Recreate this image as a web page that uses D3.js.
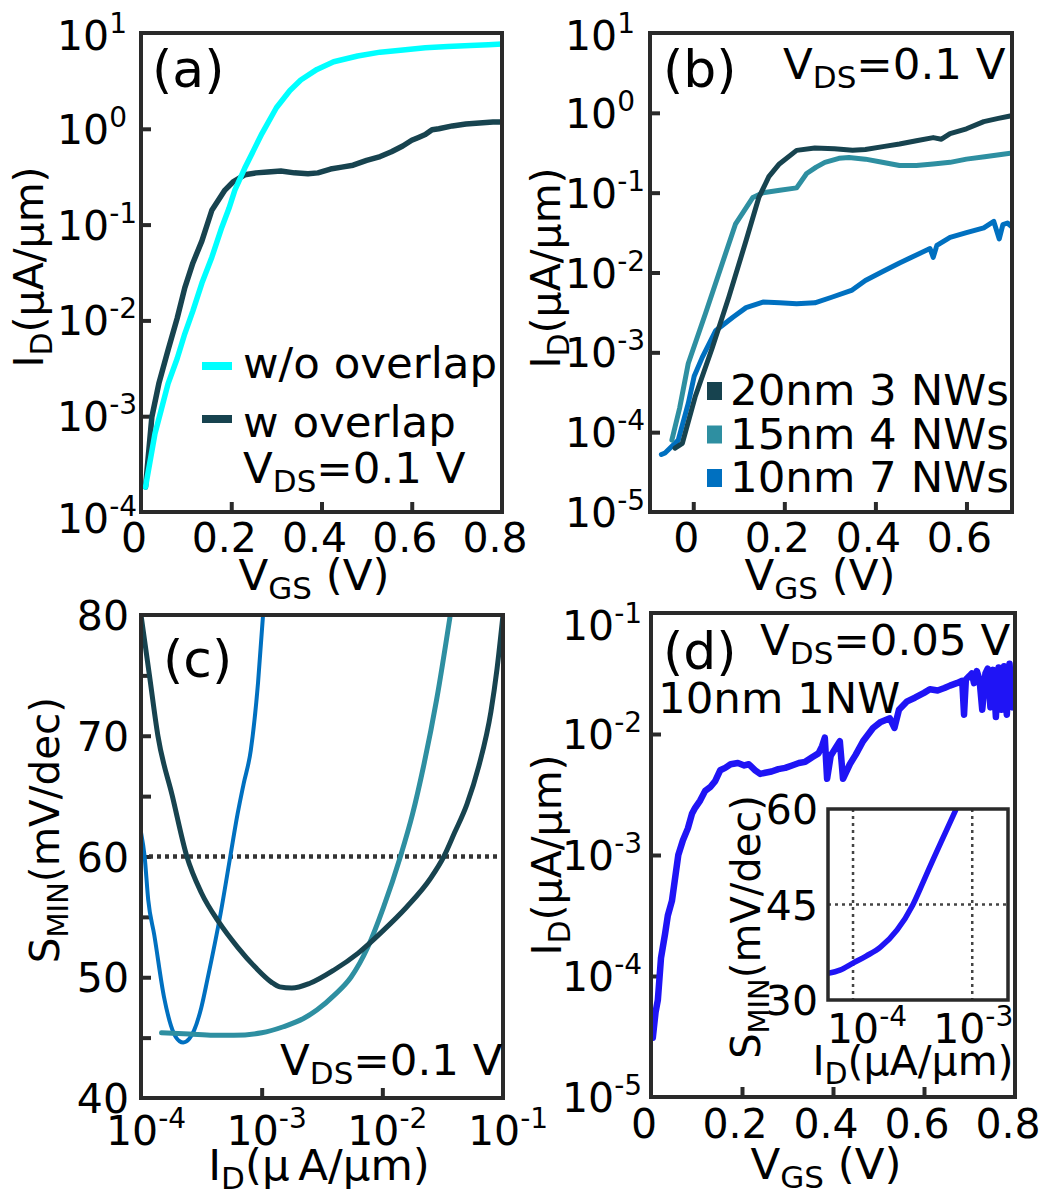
<!DOCTYPE html>
<html>
<head>
<meta charset="utf-8">
<script src="https://cdn.jsdelivr.net/npm/d3@7"></script>
<style>
body { margin: 0; background: #fff; }
svg { display: block; font-family: "DejaVu Sans", sans-serif; }
</style>
</head>
<body>
<div id="chart"></div>
<script>
// ---- panel (a): ID-VGS, log10 of ID (uA/um)
var aCyanV   = [0.010,0.031,0.045,0.060,0.080,0.097,0.115,0.135,0.157,0.179,0.195,0.208,0.230,0.250,0.268,0.300,0.330,0.354,0.390,0.427,0.480,0.530,0.575,0.630,0.680,0.730,0.770,0.800];
var aCyanLog = [-3.74,-3.18,-2.93,-2.66,-2.40,-2.14,-1.90,-1.61,-1.34,-1.03,-0.83,-0.64,-0.41,-0.22,-0.05,0.22,0.40,0.51,0.62,0.70,0.76,0.80,0.82,0.845,0.86,0.87,0.878,0.885];
var aDarkV   = [0.010,0.024,0.040,0.060,0.080,0.097,0.115,0.135,0.157,0.186,0.205,0.230,0.255,0.281,0.310,0.340,0.370,0.392,0.420,0.445,0.470,0.500,0.530,0.555,0.580,0.600,0.615,0.630,0.645,0.660,0.690,0.720,0.750,0.780,0.800];
var aDarkLog = [-3.74,-3.01,-2.65,-2.31,-1.98,-1.66,-1.40,-1.17,-0.85,-0.64,-0.55,-0.48,-0.46,-0.45,-0.44,-0.46,-0.47,-0.46,-0.42,-0.40,-0.38,-0.33,-0.29,-0.24,-0.18,-0.12,-0.09,-0.06,-0.01,0.00,0.03,0.05,0.06,0.07,0.07];
var aLegend  = ['w/o overlap', 'w overlap'];

// ---- panel (b)
var bDarkV   = [-0.040,-0.024,0.004,0.042,0.078,0.116,0.144,0.166,0.189,0.227,0.267,0.310,0.350,0.378,0.420,0.453,0.490,0.527,0.545,0.564,0.600,0.638,0.670,0.704];
var bDarkLog = [-4.20,-4.14,-3.56,-2.94,-2.31,-1.60,-1.06,-0.80,-0.64,-0.47,-0.44,-0.45,-0.47,-0.46,-0.42,-0.39,-0.35,-0.31,-0.33,-0.26,-0.20,-0.11,-0.07,-0.03];
var bTealV   = [-0.047,-0.030,-0.011,0.027,0.064,0.093,0.131,0.153,0.190,0.227,0.249,0.270,0.289,0.320,0.342,0.378,0.415,0.453,0.490,0.527,0.564,0.600,0.640,0.680,0.704];
var bTealLog = [-4.10,-3.70,-3.14,-2.51,-1.88,-1.39,-1.06,-1.00,-0.97,-0.94,-0.76,-0.68,-0.62,-0.57,-0.56,-0.58,-0.62,-0.66,-0.66,-0.64,-0.62,-0.58,-0.55,-0.52,-0.50];
var bBlueV   = [-0.070,-0.062,-0.033,-0.011,0.002,0.020,0.049,0.087,0.116,0.153,0.190,0.227,0.267,0.304,0.349,0.378,0.415,0.453,0.490,0.520,0.527,0.535,0.564,0.600,0.638,0.660,0.672,0.680,0.690,0.704];
var bBlueLog = [-4.28,-4.26,-4.10,-3.64,-3.30,-3.06,-2.73,-2.56,-2.44,-2.37,-2.38,-2.39,-2.38,-2.31,-2.22,-2.10,-1.99,-1.88,-1.78,-1.70,-1.81,-1.66,-1.56,-1.50,-1.44,-1.36,-1.58,-1.40,-1.38,-1.45];
var bLegend  = ['20nm 3 NWs', '15nm 4 NWs', '10nm 7 NWs'];

// ---- panel (c): SMIN vs log10 ID
var cDarkLogI = [-4.00,-3.93,-3.86,-3.74,-3.62,-3.50,-3.35,-3.20,-3.05,-2.92,-2.85,-2.75,-2.60,-2.40,-2.20,-2.00,-1.80,-1.60,-1.49,-1.40,-1.30,-1.20,-1.10,-1.05,-1.00];
var cDarkS    = [80,75,70,65,60,57,54.5,52.5,50.8,49.6,49.2,49.1,49.5,50.6,52.0,53.8,55.8,58.2,60,62,64.3,67.5,72,75.5,80];
var cTealLogI = [-3.83,-3.60,-3.40,-3.23,-3.00,-2.82,-2.65,-2.54,-2.40,-2.26,-2.12,-1.99,-1.85,-1.75,-1.66,-1.55,-1.44];
var cTealS    = [45.4,45.3,45.2,45.2,45.4,45.9,46.6,47.3,48.5,50.0,52.5,55.8,60,63.5,67.4,73,79.8];
var cBlueLogI = [-4.00,-3.97,-3.94,-3.89,-3.81,-3.73,-3.68,-3.65,-3.60,-3.56,-3.50,-3.45,-3.34,-3.26,-3.20,-3.15,-3.09,-3.03,-2.99];
var cBlueS    = [62,60,56.4,53.5,48.4,45.4,44.7,44.6,44.9,45.6,47.5,49.8,55.3,60,63.5,66,68.8,74.4,79.8];

// ---- panel (d)
var dV   = [0.004,0.010,0.015,0.022,0.031,0.037,0.046,0.060,0.070,0.081,0.090,0.097,0.108,0.119,0.130,0.141,0.152,0.163,0.175,0.191,0.205,0.215,0.229,0.240,0.251,0.265,0.280,0.295,0.310,0.325,0.339,0.355,0.368,0.376,0.382,0.387,0.395,0.405,0.415,0.422,0.437,0.450,0.466,0.488,0.505,0.525,0.535,0.545,0.563,0.580,0.600,0.613,0.630,0.645,0.657,0.672,0.684,0.688,0.692,0.700,0.705,0.710,0.716,0.722,0.728,0.735,0.740,0.746,0.752,0.758,0.764,0.770,0.776,0.782,0.788,0.794,0.800];
var dLog = [-4.51,-4.30,-4.20,-3.85,-3.65,-3.50,-3.38,-3.00,-2.88,-2.78,-2.66,-2.61,-2.55,-2.47,-2.44,-2.39,-2.30,-2.28,-2.25,-2.24,-2.26,-2.25,-2.30,-2.33,-2.32,-2.31,-2.29,-2.28,-2.26,-2.24,-2.23,-2.19,-2.16,-2.10,-2.03,-2.37,-2.18,-2.12,-2.06,-2.37,-2.25,-2.17,-2.06,-1.95,-1.90,-1.87,-1.95,-1.80,-1.73,-1.70,-1.66,-1.63,-1.64,-1.62,-1.60,-1.58,-1.56,-1.84,-1.55,-1.52,-1.50,-1.58,-1.48,-1.55,-1.80,-1.50,-1.46,-1.78,-1.47,-1.86,-1.45,-1.80,-1.44,-1.84,-1.42,-1.78,-1.62];
var insLogI = [-4.21,-4.11,-4.00,-3.89,-3.77,-3.63,-3.50,-3.41,-3.32,-3.23,-3.14];
var insS    = [34.2,34.7,35.8,36.9,38.3,41.0,44.9,48.6,52.4,56.1,59.8];

var ink = '#2a2a2a';
var cCyan = '#00ffff', cDark = '#17434f', cTeal = '#2e8fa1', cBlue = '#0070c0', cPure = '#1f14f5';
var TXT = 43.5;   // body text size
var TCK = 41;     // tick label size
var YT = 41;      // rotated titles

var svg = d3.select('#chart').append('svg')
  .attr('width', 1064)
  .attr('height', 1196);

function pow10(v) { return Math.pow(10, v); }
function zip(xs, ys) { return xs.map(function(d, i){ return [d, ys[i]]; }); }

// text with sub / superscript pieces: parts = [[text, 'n'|'sub'|'sup'], ...]
function rich(sel, parts, fs) {
  var shift = 0;
  parts.forEach(function(p){
    var t = sel.append('tspan').text(p[0]);
    var target = p[1] == 'sub' ? 9 : (p[1] == 'sup' ? -17 : 0);
    t.attr('dy', target - shift)
     .attr('font-size', p[1] == 'n' ? fs : Math.round(fs * (p[1] == 'sub' ? 0.72 : 0.68)));
    shift = target;
  });
  return sel;
}

function expLabel(n) { return [['10','n'], [String(n),'sup']]; }

function makePanel(p) {
  var g = svg.append('g');
  g.append('clipPath').attr('id', p.id)
    .append('rect')
    .attr('x', p.left).attr('y', p.top)
    .attr('width', p.right - p.left).attr('height', p.bottom - p.top);

  var ax = g.append('g').attr('transform', 'translate(0,' + p.bottom + ')')
    .call(d3.axisBottom(p.x).tickValues(p.xTicks).tickSize(-10).tickSizeOuter(0).tickFormat(''));
  var ay = g.append('g').attr('transform', 'translate(' + p.left + ',0)')
    .call(d3.axisLeft(p.y).tickValues(p.yTicks).tickSize(-10).tickSizeOuter(0).tickFormat(''));
  [ax, ay].forEach(function(a){
    a.select('.domain').remove();
    a.selectAll('.tick line').attr('stroke', ink).attr('stroke-width', 4);
  });
  p.plot = g.append('g').attr('clip-path', 'url(#' + p.id + ')');
  return g;
}

function drawBox(g, p, w) {
  g.append('rect')
    .attr('x', p.left).attr('y', p.top)
    .attr('width', p.right - p.left).attr('height', p.bottom - p.top)
    .attr('fill', 'none').attr('stroke', ink).attr('stroke-width', w || 4);
}

function curve(p, pts, color, width, smooth) {
  var line = d3.line()
    .x(function(d){ return p.x(d[0]); })
    .y(function(d){ return p.y(d[1]); });
  if (smooth) line.curve(d3.curveMonotoneX);
  p.plot.append('path')
    .attr('d', line(pts))
    .attr('fill', 'none')
    .attr('stroke', color)
    .attr('stroke-width', width)
    .attr('stroke-linejoin', 'round')
    .attr('stroke-linecap', 'round');
}

function logYLabels(g, p, exps, dx, fixes) {
  exps.forEach(function(e){
    var extra = (fixes && fixes[e]) || 0;
    rich(g.append('text')
      .attr('x', p.left - dx)
      .attr('y', p.y(pow10(e)) + 15 + extra)
      .attr('text-anchor', 'start'), expLabel(e), TCK);
  });
}

function linXLabels(g, p, vals, fmt, base) {
  vals.forEach(function(v){
    g.append('text')
      .attr('x', p.x(v) - 7)
      .attr('y', p.bottom + base)
      .attr('text-anchor', 'middle')
      .attr('font-size', TCK)
      .text(fmt(v));
  });
}

function yTitle(g, x, y, parts, fs) {
  rich(g.append('text')
    .attr('transform', 'translate(' + x + ',' + y + ') rotate(-90)')
    .attr('text-anchor', 'middle'), parts, fs);
}

function xTitle(g, x, y, parts, fs) {
  rich(g.append('text')
    .attr('x', x).attr('y', y)
    .attr('text-anchor', 'middle'), parts, fs);
}

function plainText(g, x, y, parts, fs) {
  rich(g.append('text').attr('x', x).attr('y', y), parts, fs);
}

var vFmt = function(v){ return v == 0 ? '0' : d3.format('.1f')(v); };
var idTitle = [['I','n'], ['D','sub'], ['(μA/μm)','n']];
var vgsTitle = [['V','n'], ['GS','sub'], [' (V)','n']];
var smTitle = [['S','n'], ['MIN','sub'], ['(mV/dec)','n']];

// ===== (a)
var pa = { id: 'clipA', left: 141, right: 502, top: 33, bottom: 512 };
pa.x = d3.scaleLinear().domain([0, 0.8]).range([pa.left, pa.right]);
pa.y = d3.scaleLog().domain([1e-4, 10]).range([pa.bottom, pa.top]);
pa.xTicks = [0.2, 0.4, 0.6];
pa.yTicks = [1e0, 1e-1, 1e-2, 1e-3];
var ga = makePanel(pa);
curve(pa, zip(aDarkV, aDarkLog.map(pow10)), cDark, 5.5);
curve(pa, zip(aCyanV, aCyanLog.map(pow10)), cCyan, 5.5);
drawBox(ga, pa);
logYLabels(ga, pa, [1, 0, -1, -2, -3, -4], 84, { '-4': 6, '1': 2 });
linXLabels(ga, pa, [0, 0.2, 0.4, 0.6, 0.8], vFmt, 40);
yTitle(ga, 43, 267, idTitle, YT);
xTitle(ga, 314, 590, vgsTitle, TXT);
plainText(ga, 152, 87, [['(a)','n']], 52);
[[cCyan, 366, 378], [cDark, 419, 437]].forEach(function(r, i){
  ga.append('line').attr('x1', 202).attr('x2', 232).attr('y1', r[1]).attr('y2', r[1])
    .attr('stroke', r[0]).attr('stroke-width', 8);
  plainText(ga, 243, r[2], [[aLegend[i],'n']], TXT);
});
plainText(ga, 243, 483, [['V','n'], ['DS','sub'], ['=0.1 V','n']], TXT);

// ===== (b)
var pb = { id: 'clipB', left: 650, right: 1012, top: 33, bottom: 512 };
pb.x = d3.scaleLinear().domain([-0.095, 0.7]).range([pb.left, pb.right]);
pb.y = d3.scaleLog().domain([1e-5, 10]).range([pb.bottom, pb.top]);
pb.xTicks = [0, 0.2, 0.4, 0.6];
pb.yTicks = [1e0, 1e-1, 1e-2, 1e-3, 1e-4];
var gb = makePanel(pb);
curve(pb, zip(bBlueV, bBlueLog.map(pow10)), cBlue, 5);
curve(pb, zip(bTealV, bTealLog.map(pow10)), cTeal, 5);
curve(pb, zip(bDarkV, bDarkLog.map(pow10)), cDark, 5);
drawBox(gb, pb);
logYLabels(gb, pb, [1, 0, -1, -2, -3, -4, -5], 85, { '1': 2 });
linXLabels(gb, pb, [0, 0.2, 0.4, 0.6], vFmt, 40);
yTitle(gb, 560, 268, idTitle, YT);
xTitle(gb, 820, 590, vgsTitle, TXT);
plainText(gb, 663, 87, [['(b)','n']], 52);
plainText(gb, 783, 79, [['V','n'], ['DS','sub'], ['=0.1 V','n']], TXT);
[cDark, cTeal, cBlue].forEach(function(c, i){
  gb.append('rect').attr('x', 707).attr('y', 382 + i * 43.5).attr('width', 15).attr('height', 18).attr('fill', c);
  plainText(gb, 730, 405 + i * 43.5, [[bLegend[i],'n']], TXT);
});

// ===== (c)
var pc = { id: 'clipC', left: 141, right: 503, top: 615, bottom: 1098 };
pc.x = d3.scaleLog().domain([1e-4, 1e-1]).range([pc.left, pc.right]);
pc.y = d3.scaleLinear().domain([40, 80]).range([pc.bottom, pc.top]);
pc.xTicks = [1e-3, 1e-2];
pc.yTicks = [45, 50, 55, 60, 65, 70, 75];
var gc = makePanel(pc);
pc.plot.append('line')
  .attr('x1', pc.left).attr('x2', pc.right)
  .attr('y1', pc.y(60)).attr('y2', pc.y(60))
  .attr('stroke', '#333').attr('stroke-width', 4.5).attr('stroke-dasharray', '4,4');
curve(pc, zip(cBlueLogI.map(pow10), cBlueS), cBlue, 4, true);
curve(pc, zip(cTealLogI.map(pow10), cTealS), cTeal, 5, true);
curve(pc, zip(cDarkLogI.map(pow10), cDarkS), cDark, 5, true);
drawBox(gc, pc);
[40, 50, 60, 70, 80].forEach(function(v){
  gc.append('text').attr('x', pc.left - 12).attr('y', pc.y(v) + 15)
    .attr('text-anchor', 'end').attr('font-size', TCK).text(v);
});
[-4, -3, -2, -1].forEach(function(e){
  rich(gc.append('text').attr('x', pc.x(pow10(e)) + 5).attr('y', pc.bottom + 47)
    .attr('text-anchor', 'middle'), expLabel(e), TCK);
});
yTitle(gc, 59, 830, smTitle, 40.5);
xTitle(gc, 319, 1180, [['I','n'], ['D','sub'], ['(μ\u2009A/μm)','n']], TXT);
plainText(gc, 163, 677, [['(c)','n']], 52);
plainText(gc, 280, 1075, [['V','n'], ['DS','sub'], ['=0.1 V','n']], TXT);

// ===== (d)
var pd = { id: 'clipD', left: 651, right: 1015, top: 613, bottom: 1097 };
pd.x = d3.scaleLinear().domain([0, 0.8]).range([pd.left, pd.right]);
pd.y = d3.scaleLog().domain([1e-5, 1e-1]).range([pd.bottom, pd.top]);
pd.xTicks = [0.2, 0.4, 0.6];
pd.yTicks = [1e-2, 1e-3, 1e-4];
var gd = makePanel(pd);
curve(pd, zip(dV, dLog.map(pow10)), cPure, 6.5);
drawBox(gd, pd);
logYLabels(gd, pd, [-1, -2, -3, -4, -5], 89, { '-1': 12 });
linXLabels(gd, pd, [0, 0.2, 0.4, 0.6, 0.8], vFmt, 41);
yTitle(gd, 561, 855, idTitle, YT);
xTitle(gd, 826, 1179, vgsTitle, TXT);
plainText(gd, 663, 669, [['(d)','n']], 52);
plainText(gd, 760, 655, [['V','n'], ['DS','sub'], ['=0.05 V','n']], TXT);
plainText(gd, 658, 713, [['10nm 1NW','n']], TXT);

// inset of (d)
var pi = { id: 'clipI', left: 828, right: 1008, top: 809, bottom: 1000 };
pi.x = d3.scaleLog().domain([pow10(-4.21), pow10(-2.70)]).range([pi.left, pi.right]);
pi.y = d3.scaleLinear().domain([30, 60]).range([pi.bottom, pi.top]);
pi.xTicks = [];
pi.yTicks = [];
gd.append('rect').attr('x', pi.left).attr('y', pi.top)
  .attr('width', pi.right - pi.left).attr('height', pi.bottom - pi.top).attr('fill', '#fff');
var gi = makePanel(pi);
[1e-4, 1e-3].forEach(function(v){
  pi.plot.append('line').attr('x1', pi.x(v)).attr('x2', pi.x(v)).attr('y1', pi.top).attr('y2', pi.bottom)
    .attr('stroke', '#444').attr('stroke-width', 2.5).attr('stroke-dasharray', '3,4');
});
pi.plot.append('line').attr('x1', pi.left).attr('x2', pi.right).attr('y1', pi.y(45)).attr('y2', pi.y(45))
  .attr('stroke', '#444').attr('stroke-width', 2.5).attr('stroke-dasharray', '3,4');
curve(pi, zip(insLogI.map(pow10), insS), cPure, 5.5, true);
drawBox(gi, pi, 3.5);
[30, 45, 60].forEach(function(v){
  gi.append('text').attr('x', pi.left - 10).attr('y', pi.y(v) + 15)
    .attr('text-anchor', 'end').attr('font-size', TCK).text(v);
});
[[-4, 14], [-3, 1]].forEach(function(e){
  rich(gi.append('text').attr('x', pi.x(pow10(e[0])) + e[1]).attr('y', pi.bottom + 43)
    .attr('text-anchor', 'middle'), expLabel(e[0]), TCK);
});
yTitle(gi, 760, 927, smTitle, 40);
xTitle(gi, 913, 1075, idTitle, 41);
</script>
</body>
</html>
